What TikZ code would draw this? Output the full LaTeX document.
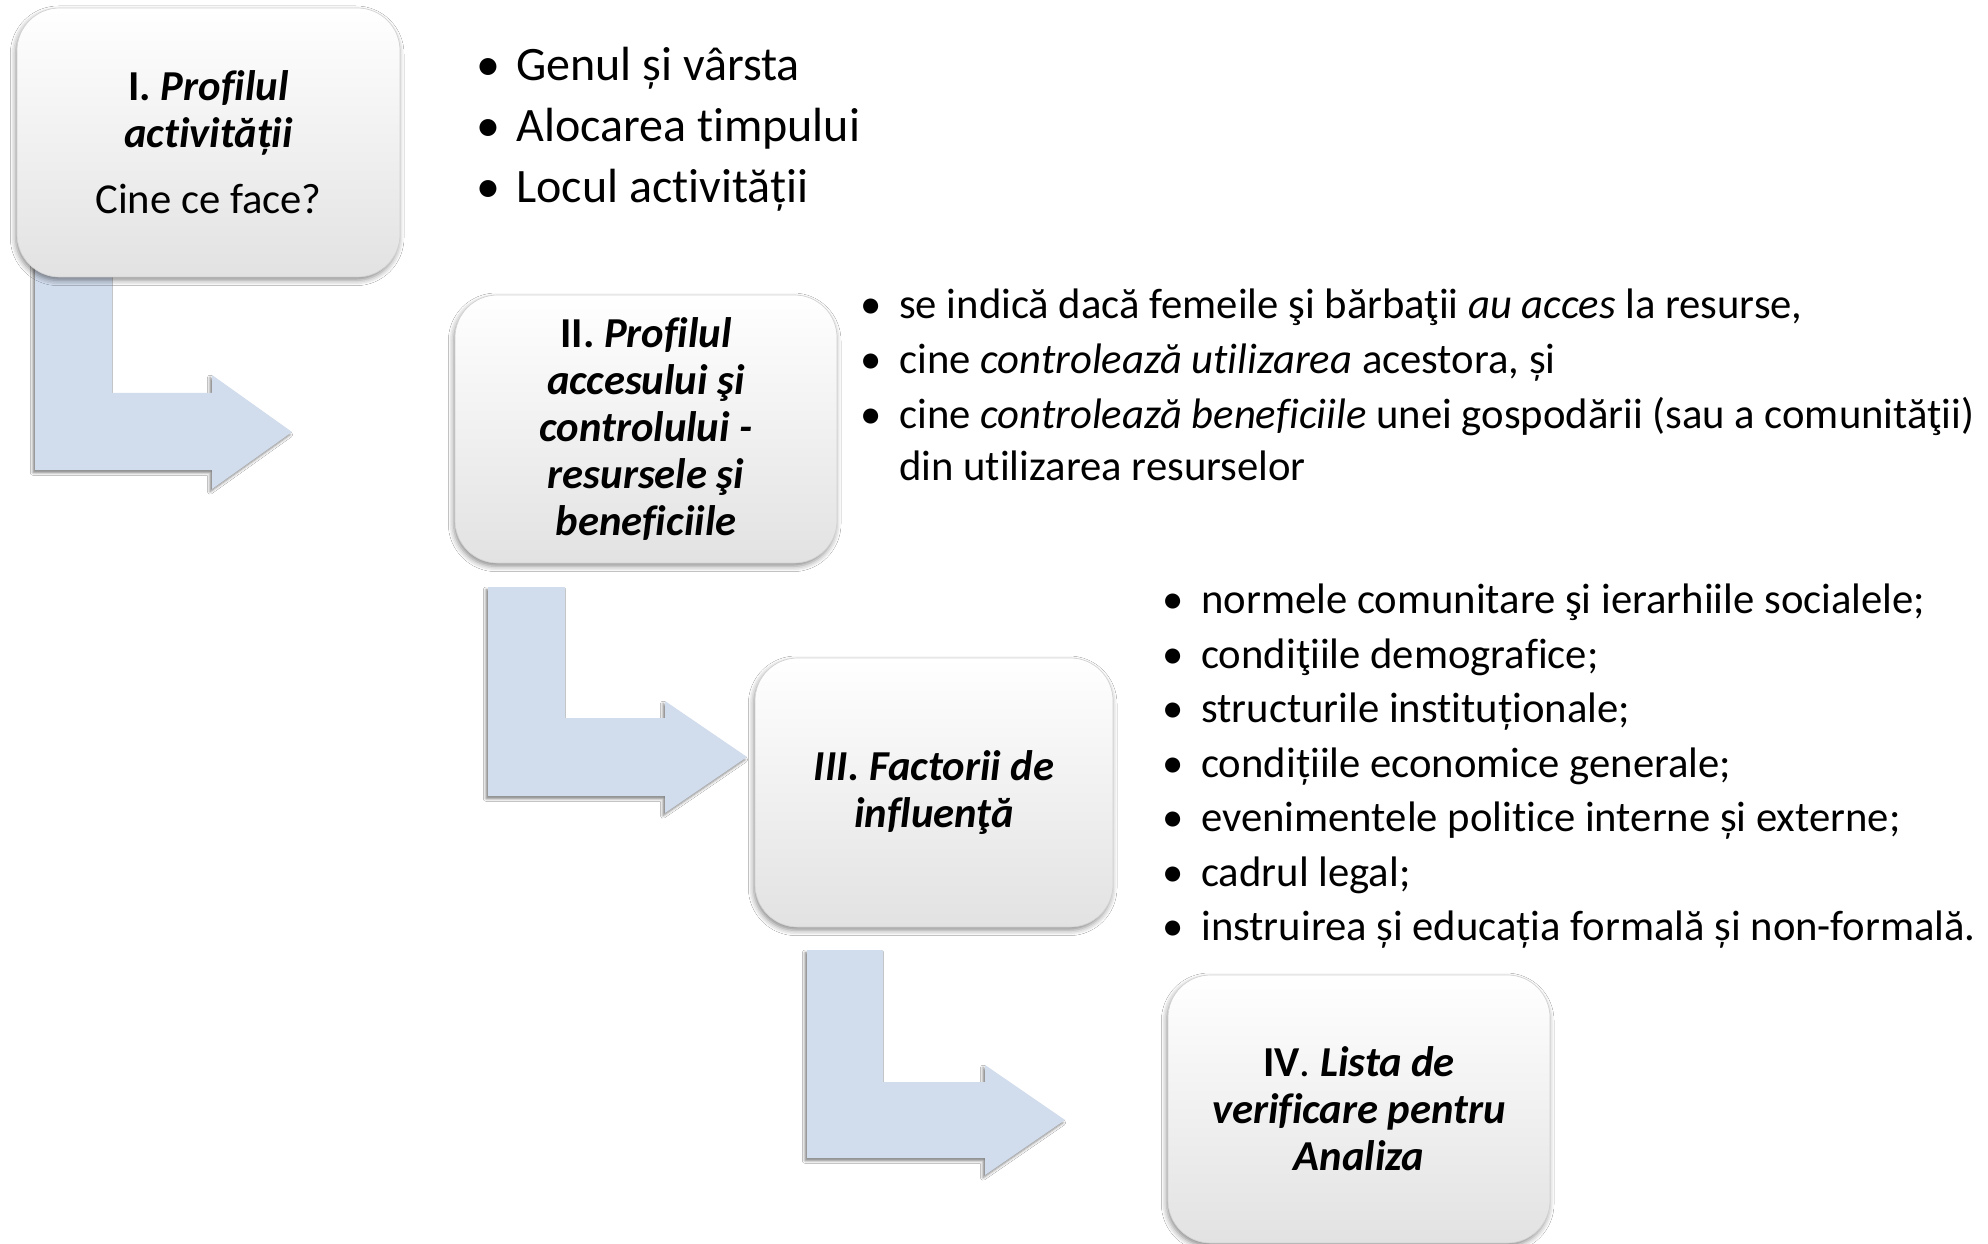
\documentclass[tikz,border=0pt]{standalone}
\usepackage{fontspec}
\setmainfont[Ligatures=NoCommon]{Carlito}
\usetikzlibrary{shadows.blur}

\newcommand{\blta}{\llap{\textbullet\hspace{12pt}}}
\newcommand{\bltb}{\llap{\textbullet\hspace{13pt}}}

\begin{document}
\begin{tikzpicture}[x=0.75pt,y=0.75pt,yscale=-1,xscale=1,
  stagebox/.style={draw={rgb, 255:red, 210; green, 210; blue, 210}, line width=0.5pt,
    rounded corners=32pt, top color=white, bottom color={rgb, 255:red, 226; green, 226; blue, 226},
    blur shadow={shadow xshift=-1pt, shadow yshift=-2.5pt, shadow blur radius=4pt, shadow opacity=45},
    align=center, inner sep=0pt, font=\fontsize{32}{35.25}\selectfont},
  bentarrow/.style={fill={rgb, 255:red, 209; green, 220; blue, 237},
    blur shadow={shadow xshift=-1.5pt, shadow yshift=-2pt, shadow blur radius=2pt, shadow opacity=50}},
  listone/.style={anchor=base west, inner sep=0.75pt, font=\fontsize{36}{42}\selectfont},
  listtwo/.style={anchor=base west, inner sep=0.75pt, font=\fontsize{32}{36}\selectfont}]
\path[use as bounding box, fill=white] (0,0) rectangle (1988,1244);

%Shape: Bent Arrow [I -> II]
\fill [bentarrow] (35,260) -- (112,260) -- (112,393) -- (212,393) -- (212,375) -- (292,432) -- (212,489) -- (212,470) -- (35,470) -- cycle ;
%Shape: Bent Arrow [II -> III]
\fill [bentarrow] (488,587) -- (565,587) -- (565,718) -- (665,718) -- (665,701) -- (747,757) -- (665,813) -- (665,796) -- (488,796) -- cycle ;
%Shape: Bent Arrow [III -> IV]
\fill [bentarrow] (807,950) -- (883,950) -- (883,1082) -- (985,1082) -- (985,1065) -- (1065,1120) -- (985,1175) -- (985,1158) -- (807,1158) -- cycle ;

%Shape: Rounded Rect [I]
\draw (208.5,142.5) node (profil) [stagebox, minimum width=287.25pt, minimum height=201.75pt]
  {\textbf{I. \textit{Profilul}}\\ \textbf{\textit{activității}}\\[14pt] Cine ce face?};
%Shape: Rounded Rect [II]
\draw (646,429) node (acces) [stagebox, minimum width=286.5pt, minimum height=201pt]
  {\textbf{II. \textit{Profilul}}\\ \textbf{\textit{accesului şi}}\\ \textbf{\textit{controlului -}}\\ \textbf{\textit{resursele şi}}\\ \textbf{\textit{beneficiile}}};
%Shape: Rounded Rect [III]
\draw (934,792.5) node (factori) [stagebox, minimum width=268.5pt, minimum height=201.75pt]
  {\textbf{\textit{III. Factorii de}}\\ \textbf{\textit{influenţă}}};
%Shape: Rounded Rect [IV]
\draw (1359,1109) node (lista) [stagebox, minimum width=286.5pt, minimum height=201pt]
  {\textbf{IV}. \textbf{\textit{Lista de}}\\ \textbf{\textit{verificare pentru}}\\ \textbf{\textit{Analiza}}};

% Text Node
\draw (515,81) node (gen) [listone] {\blta Genul și vârsta};
% Text Node
\draw (515,142) node (timp) [listone] {\blta Alocarea timpului};
% Text Node
\draw (515,203) node (loc) [listone] {\blta Locul activității};

% Text Node
\draw (898,319) node (indica) [listtwo] {\bltb se indică dacă femeile şi bărbaţii \textit{au acces} la resurse,};
% Text Node
\draw (898,374) node (utiliz) [listtwo] {\bltb cine \textit{controlează utilizarea} acestora, și};
% Text Node
\draw (898,429) node (benef) [listtwo] {\bltb cine \textit{controlează beneficiile} unei gospodării (sau a comunităţii)};
% Text Node
\draw (898,480) node (benefb) [listtwo] {din utilizarea resurselor};

% Text Node
\draw (1200,613) node (norme) [listtwo] {\bltb normele comunitare şi ierarhiile socialele;};
% Text Node
\draw (1200,668) node (demo) [listtwo] {\bltb condiţiile demografice;};
% Text Node
\draw (1200,722) node (instit) [listtwo] {\bltb structurile instituționale;};
% Text Node
\draw (1200,777) node (econ) [listtwo] {\bltb condițiile economice generale;};
% Text Node
\draw (1200,831) node (polit) [listtwo] {\bltb evenimentele politice interne și externe;};
% Text Node
\draw (1200,886) node (legal) [listtwo] {\bltb cadrul legal;};
% Text Node
\draw (1200,940) node (educ) [listtwo] {\bltb instruirea și educația formală și non-formală.};

\end{tikzpicture}
\end{document}
